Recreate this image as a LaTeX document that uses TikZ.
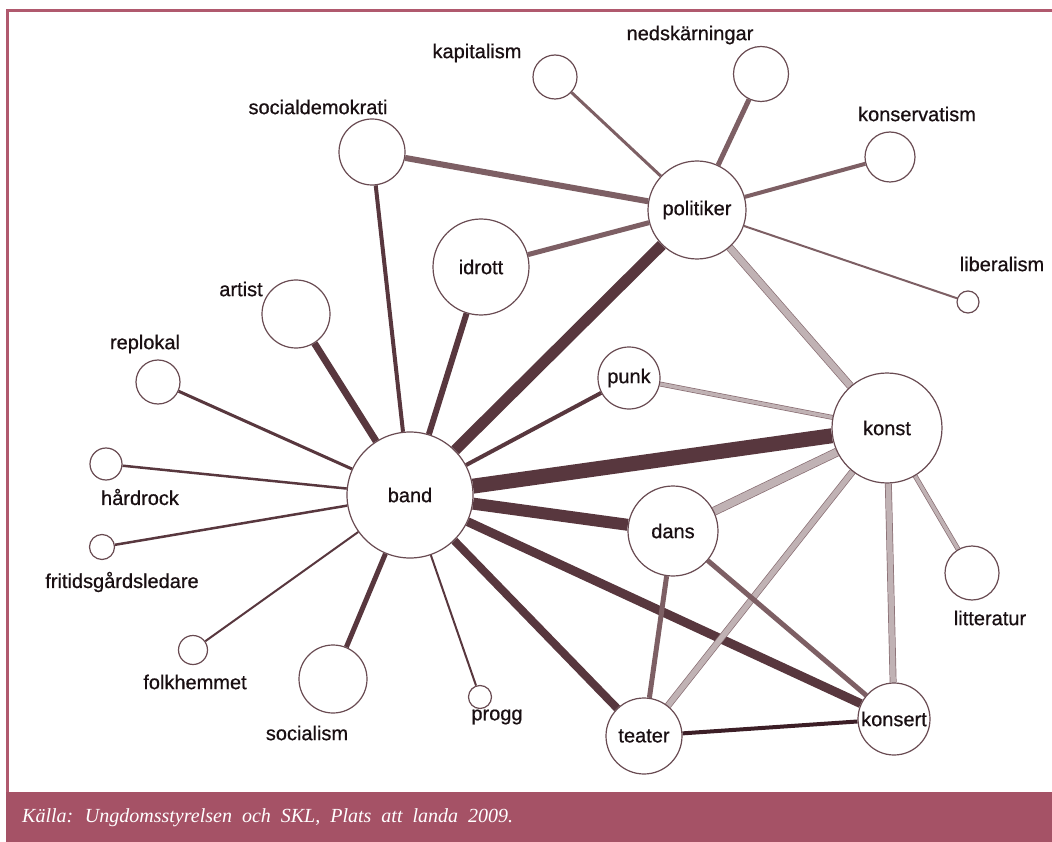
\documentclass[tikz,border=0pt]{standalone}
\usepackage{fontspec}
\setmainfont{Liberation Sans}
\newfontfamily\lblfont{Liberation Sans}[FakeBold=0.7]
\newfontfamily\footfont{Liberation Serif}
\usetikzlibrary{backgrounds}
\definecolor{frame}{RGB}{176,89,110}
\definecolor{bar}{RGB}{165,82,102}
\definecolor{edark}{RGB}{88,55,62}
\definecolor{emid}{RGB}{125,95,100}
\definecolor{elight}{RGB}{192,178,180}
\definecolor{eline}{RGB}{135,108,113}
\definecolor{ebl}{RGB}{60,30,38}
\definecolor{nline}{RGB}{105,75,82}
\definecolor{txt}{RGB}{25,15,18}
\tikzset{
  nd/.style={circle, draw=nline, fill=white, line width=1.2pt, inner sep=0pt, minimum size=#1, font=\lblfont\fontsize{20}{20}\selectfont, text=txt},
  lb/.style={font=\lblfont\fontsize{20}{20}\selectfont, text=txt, inner sep=0pt},
  dk/.style={draw=edark, line width=#1},
  md/.style={draw=emid, line width=#1},
  lt/.style={draw=eline, line width=0.7pt, double=elight, double distance=#1},
}
\begin{document}
\begin{tikzpicture}[x=1pt,y=-1pt]
\useasboundingbox (0,0) rectangle (1052,842);
% frame
\fill[frame] (6,9) rectangle (1052,12);
\fill[frame] (6,9) rectangle (9,792);
\fill[bar] (6,792) rectangle (1052,842);
\node[anchor=west, inner sep=0pt, text=white, font=\footfont\itshape\fontsize{20}{20}\selectfont] (src) at (22,818) {\spaceskip=10pt plus 1pt Källa: Ungdomsstyrelsen och SKL, Plats att landa 2009.};

% main nodes
\node[nd=126pt] (band) at (410,495) {band};
\node[nd=110pt] (konst) at (887,428) {konst};
\node[nd=98pt] (pol) at (697,210) {politiker};
\node[nd=90pt] (dans) at (673,531) {dans};
\node[nd=62pt] (punk) at (629,378) {punk};
\node[nd=96pt] (idrott) at (481,267) {idrott};
\node[nd=76pt] (teater) at (644,736) {teater};
\node[nd=72pt] (konsert) at (894,719) {konsert};
% satellite nodes
\node[nd=66pt] (sd) at (372,152) {};
\node[nd=44pt] (kap) at (555,77) {};
\node[nd=55pt] (ned) at (761,74) {};
\node[nd=50pt] (kons) at (890,157) {};
\node[nd=22pt] (lib) at (968,302) {};
\node[nd=68pt] (artist) at (296,314) {};
\node[nd=44pt] (rep) at (158,382) {};
\node[nd=32pt] (hard) at (106,464) {};
\node[nd=25pt] (frit) at (102,547) {};
\node[nd=29pt] (folk) at (193,650) {};
\node[nd=68pt] (soc) at (333,679) {};
\node[nd=23pt] (progg) at (480,697) {};
\node[nd=54pt] (litt) at (972,573) {};
% labels
\node[lb] (sdL) at (318,107) {socialdemokrati};
\node[lb] (kapL) at (477,53) {kapitalism};
\node[lb] (nedL) at (690,35) {nedskärningar};
\node[lb] (konsL) at (917,114) {konservatism};
\node[lb] (libL) at (1002,264) {liberalism};
\node[lb] (artistL) at (241,289) {artist};
\node[lb] (repL) at (145,344) {replokal};
\node[lb] (hardL) at (140,497) {hårdrock};
\node[lb] (fritL) at (122,582) {fritidsgårdsledare};
\node[lb] (folkL) at (195,682) {folkhemmet};
\node[lb] (socL) at (307,733) {socialism};
\node[lb] (proggL) at (497,717) {progg};
\node[lb] (littL) at (990,618) {litteratur};

\begin{scope}[on background layer]
% band edges
\draw[dk=15pt] (band) -- (konst);
\draw[dk=11pt] (band) -- (pol);
\draw[dk=12pt] (band) -- (dans);
\draw[dk=9pt] (band) -- (konsert);
\draw[dk=8pt] (band) -- (teater);
\draw[dk=6pt] (band) -- (idrott);
\draw[dk=7pt] (band) -- (artist);
\draw[dk=4pt] (band) -- (sd);
\draw[dk=5pt] (band) -- (soc);
\draw[dk=4pt] (band) -- (punk);
\draw[dk=3pt] (band) -- (rep);
\draw[dk=2.5pt] (band) -- (hard);
\draw[dk=2.5pt] (band) -- (frit);
\draw[dk=2pt] (band) -- (folk);
\draw[dk=2pt] (band) -- (progg);
% politiker edges
\draw[md=6pt] (pol) -- (sd);
\draw[md=3pt] (pol) -- (kap);
\draw[md=5pt] (pol) -- (ned);
\draw[md=4pt] (pol) -- (kons);
\draw[md=2pt] (pol) -- (lib);
\draw[md=5pt] (pol) -- (idrott);
% konst edges
\draw[lt=6.5pt] (pol) -- (konst);
\draw[lt=3.5pt] (punk) -- (konst);
\draw[lt=7.5pt] (konst) -- (dans);
\draw[lt=5.5pt] (konst) -- (teater);
\draw[lt=5.5pt] (konst) -- (konsert);
\draw[lt=3.5pt] (konst) -- (litt);
% others
\draw[md=5pt] (dans) -- (teater);
\draw[md=5pt] (dans) -- (konsert);
\draw[draw=ebl, line width=4pt] (teater) -- (konsert);
\end{scope}
\end{tikzpicture}
\end{document}
